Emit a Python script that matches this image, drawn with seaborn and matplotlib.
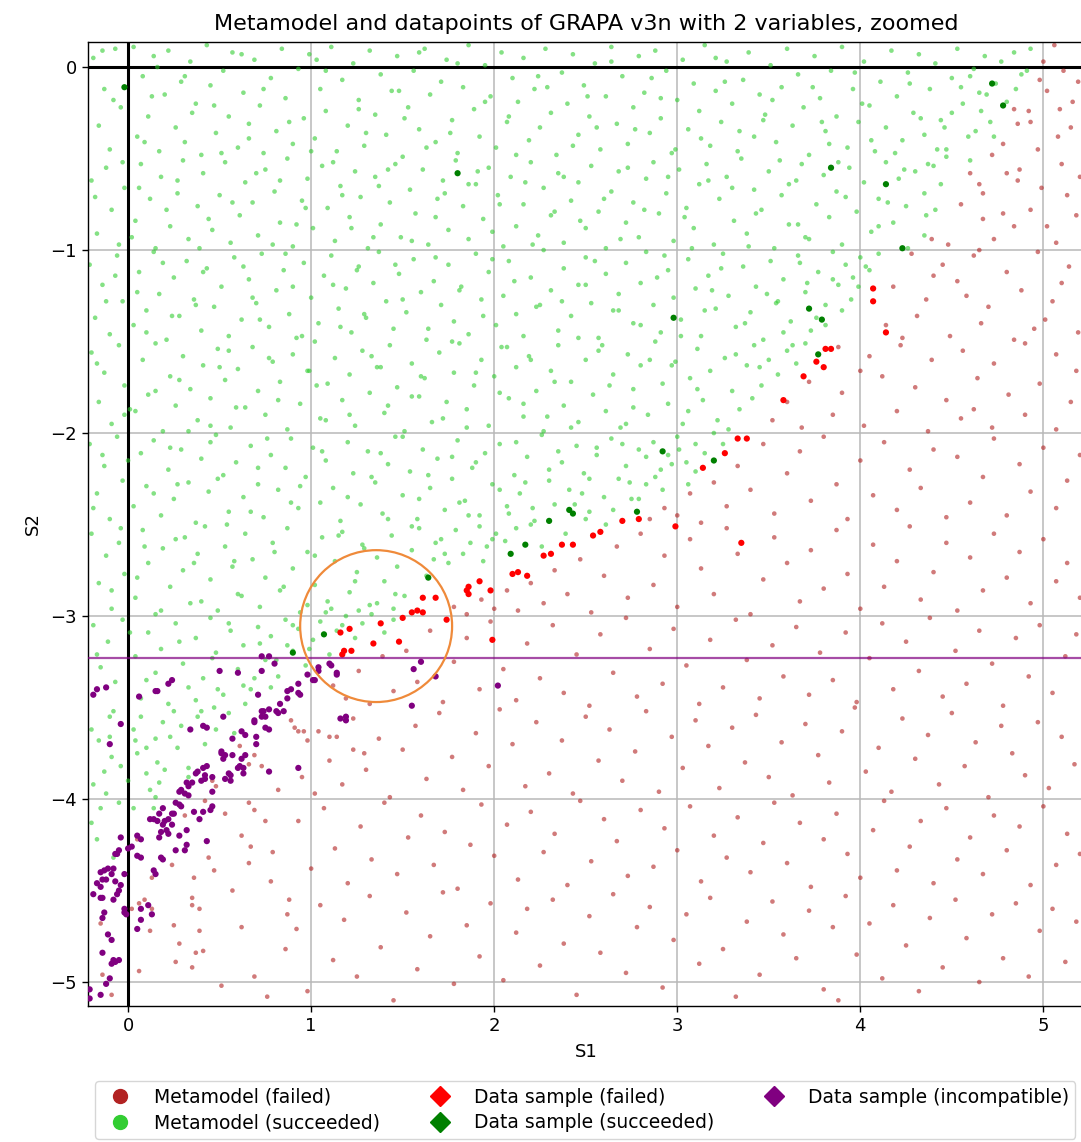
import matplotlib
matplotlib.use("Agg")
import matplotlib.pyplot as plt
from matplotlib.lines import Line2D
from matplotlib.patches import Circle
import pandas as pd
import seaborn as sns

# ---------------------------------------------------------------------------
# Metamodel predictions: succeeded (S1, S2) samples, by horizontal band
# ---------------------------------------------------------------------------
meta_ok_band_a = [
    (-0.19, 0.05), (-0.16, -0.32), (-0.13, -0.12), (-0.1, -0.45), (-0.07, 0.1), (-0.04, -0.22), (0.03, 0.11),
    (0.05, -0.38), (0.08, -0.05), (0.11, -0.27), (0.14, 0.06), (0.17, -0.46), (0.2, -0.15), (0.22, 0.09),
    (0.26, -0.33), (0.29, -0.08), (0.31, -0.41), (0.34, 0.03), (0.37, -0.2), (0.4, -0.48), (0.43, 0.12),
    (0.45, -0.1), (0.48, -0.36), (0.52, -0.02), (0.55, -0.27), (0.57, 0.08), (0.6, -0.44), (0.63, -0.14),
    (0.66, -0.31), (0.69, 0.04), (0.72, -0.21), (0.74, -0.47), (0.78, -0.06), (0.81, -0.35), (0.84, 0.1),
    (0.86, -0.17), (0.9, -0.42), (0.93, -0.01), (0.96, -0.28), (0.99, 0.07), (1.02, -0.39), (1.05, -0.12),
    (1.08, -0.24), (1.11, 0.11), (1.14, -0.46), (1.17, -0.07), (1.2, -0.32), (1.23, 0.02), (1.26, -0.18),
    (1.29, -0.43), (1.32, 0.09), (1.35, -0.26), (1.38, -0.04), (1.41, -0.37), (1.44, -0.13), (1.47, 0.06),
    (1.5, -0.49), (1.53, -0.22), (1.56, -0.02), (1.59, -0.34), (1.62, 0.1), (1.65, -0.15), (1.68, -0.41),
    (1.71, -0.08), (1.74, 0.04), (1.77, -0.29), (1.8, -0.47), (1.83, -0.11), (1.86, 0.12), (1.89, -0.23),
    (1.92, -0.38), (1.95, 0.01), (1.98, -0.16), (2.01, -0.44), (2.04, 0.08), (2.07, -0.3), (2.1, -0.06),
    (2.13, -0.19), (2.16, 0.05), (2.19, -0.4), (2.22, -0.12), (2.25, -0.33), (2.28, 0.1), (2.31, -0.25),
    (2.34, -0.48), (2.37, -0.03), (2.4, -0.2), (2.43, 0.07), (2.46, -0.37), (2.49, -0.1), (2.52, -0.27),
    (2.55, 0.02), (2.58, -0.45), (2.61, -0.16), (2.64, 0.11), (2.67, -0.31), (2.7, -0.05), (2.73, -0.42),
    (2.76, -0.22), (2.79, 0.06), (2.82, -0.14), (2.85, -0.36), (2.88, 0.09), (2.91, -0.28), (2.94, -0.02),
    (2.97, -0.47), (3.0, -0.18), (3.03, 0.04), (3.06, -0.34), (3.09, -0.09), (3.12, -0.24), (3.15, 0.12),
    (3.18, -0.43), (3.21, -0.13), (3.24, -0.3), (3.27, 0.03), (3.3, -0.2), (3.33, -0.46), (3.36, -0.07),
    (3.39, 0.08), (3.42, -0.38), (3.45, -0.15), (3.48, -0.26), (3.51, 0.01), (3.54, -0.41), (3.57, -0.11),
    (3.6, 0.1), (3.63, -0.32), (3.66, -0.04), (3.69, -0.22), (3.72, -0.48), (3.75, 0.06), (3.78, -0.17),
    (3.81, -0.35), (3.84, -0.02), (3.87, -0.27), (3.9, 0.11), (3.93, -0.44), (3.96, -0.12), (3.99, -0.3),
    (4.02, 0.03), (4.05, -0.21), (4.08, -0.46), (4.11, -0.08), (4.14, -0.33), (4.17, 0.09), (4.2, -0.16),
    (4.23, -0.4), (4.26, -0.03), (4.29, -0.25), (4.32, 0.07), (4.35, -0.37), (4.38, -0.12), (4.41, 0.02),
    (4.44, -0.29), (4.47, -0.45), (4.5, -0.06), (4.53, 0.1), (4.56, -0.2), (4.59, -0.38), (4.62, -0.01),
    (4.65, -0.14), (4.68, 0.06), (4.71, -0.3), (4.74, -0.09), (4.77, 0.03), (4.8, -0.19), (4.84, 0.08),
    (4.88, -0.04), (4.93, 0.1),
]
meta_ok_band_b = [
    (-0.2, -0.62), (-0.17, -0.91), (-0.12, -0.55), (-0.09, -0.78), (-0.05, -0.97), (-0.02, -0.66),
    (0.04, -0.84), (0.07, -0.53), (0.12, -0.72), (0.15, -0.99), (0.18, -0.6), (0.23, -0.87), (0.27, -0.69),
    (0.3, -0.51), (0.33, -0.94), (0.38, -0.76), (0.41, -0.58), (0.46, -0.89), (0.5, -0.7), (0.53, -0.52),
    (0.56, -0.96), (0.61, -0.81), (0.64, -0.63), (0.68, -0.74), (0.71, -0.92), (0.75, -0.56), (0.8, -0.68),
    (0.83, -0.85), (0.87, -0.5), (0.9, -0.98), (0.95, -0.73), (0.98, -0.61), (1.01, -0.88), (1.06, -0.54),
    (1.09, -0.77), (1.13, -0.95), (1.16, -0.65), (1.21, -0.82), (1.24, -0.57), (1.27, -0.71), (1.31, -0.99),
    (1.35, -0.6), (1.38, -0.86), (1.43, -0.74), (1.46, -0.53), (1.49, -0.93), (1.54, -0.67), (1.57, -0.8),
    (1.61, -0.56), (1.64, -0.97), (1.69, -0.72), (1.72, -0.62), (1.75, -0.89), (1.79, -0.51), (1.83, -0.76),
    (1.86, -0.94), (1.9, -0.64), (1.94, -0.83), (1.97, -0.55), (2.02, -0.7), (2.05, -0.98), (2.09, -0.6),
    (2.12, -0.87), (2.16, -0.75), (2.2, -0.52), (2.24, -0.92), (2.27, -0.66), (2.31, -0.81), (2.35, -0.58),
    (2.38, -0.96), (2.42, -0.73), (2.46, -0.63), (2.5, -0.88), (2.53, -0.54), (2.57, -0.79), (2.61, -0.99),
    (2.64, -0.68), (2.68, -0.57), (2.72, -0.85), (2.76, -0.74), (2.79, -0.93), (2.83, -0.61), (2.87, -0.52),
    (2.9, -0.8), (2.94, -0.69), (2.98, -0.95), (3.01, -0.56), (3.05, -0.77), (3.09, -0.88), (3.12, -0.64),
    (3.16, -0.53), (3.2, -0.97), (3.23, -0.72), (3.27, -0.6), (3.31, -0.84), (3.35, -0.5), (3.38, -0.91),
    (3.42, -0.67), (3.46, -0.78), (3.5, -0.57), (3.53, -0.99), (3.57, -0.7), (3.61, -0.86), (3.65, -0.62),
    (3.68, -0.53), (3.72, -0.94), (3.76, -0.75), (3.8, -0.59), (3.83, -0.82), (3.87, -0.68), (3.9, -0.97),
    (3.94, -0.55), (3.98, -0.79), (4.02, -0.63), (4.06, -0.9), (4.1, -0.72), (4.14, -0.52), (4.18, -0.85),
    (4.21, -0.61), (4.25, -0.76), (4.3, -0.57), (4.35, -0.69), (4.4, -0.54), (4.44, -0.64), (4.63, -0.35),
    (4.6, -0.51), (4.47, -0.49), (4.37, -0.53), (4.41, -0.78), (4.35, -0.92), (4.26, -0.99),
]
meta_ok_band_c = [
    (-0.21, -1.08), (-0.18, -1.37), (-0.14, -1.19), (-0.1, -1.46), (-0.06, -1.03), (-0.03, -1.28),
    (0.03, -1.41), (0.06, -1.12), (0.1, -1.33), (0.14, -1.01), (0.17, -1.24), (0.21, -1.49), (0.25, -1.15),
    (0.28, -1.36), (0.32, -1.06), (0.36, -1.27), (0.4, -1.44), (0.43, -1.1), (0.47, -1.31), (0.51, -1.2),
    (0.55, -1.47), (0.58, -1.04), (0.62, -1.38), (0.66, -1.16), (0.7, -1.29), (0.73, -1.02), (0.77, -1.42),
    (0.81, -1.22), (0.85, -1.11), (0.88, -1.35), (0.92, -1.48), (0.96, -1.07), (1.0, -1.26), (1.04, -1.4),
    (1.07, -1.14), (1.11, -1.03), (1.15, -1.32), (1.19, -1.21), (1.22, -1.45), (1.26, -1.09), (1.3, -1.37),
    (1.34, -1.18), (1.37, -1.01), (1.41, -1.28), (1.45, -1.43), (1.48, -1.13), (1.52, -1.34), (1.56, -1.05),
    (1.6, -1.23), (1.63, -1.49), (1.67, -1.17), (1.71, -1.3), (1.75, -1.08), (1.78, -1.39), (1.82, -1.2),
    (1.86, -1.46), (1.9, -1.02), (1.93, -1.27), (1.97, -1.12), (2.01, -1.41), (2.05, -1.25), (2.08, -1.06),
    (2.12, -1.35), (2.16, -1.47), (2.2, -1.15), (2.23, -1.31), (2.27, -1.0), (2.31, -1.22), (2.35, -1.44),
    (2.38, -1.1), (2.42, -1.36), (2.46, -1.19), (2.5, -1.04), (2.53, -1.29), (2.57, -1.48), (2.61, -1.13),
    (2.65, -1.33), (2.68, -1.24), (2.72, -1.07), (2.76, -1.4), (2.8, -1.18), (2.83, -1.01), (2.87, -1.3),
    (2.91, -1.45), (2.95, -1.11), (2.98, -1.26), (3.02, -1.38), (3.06, -1.05), (3.1, -1.21), (3.13, -1.47),
    (3.17, -1.14), (3.21, -1.32), (3.25, -1.02), (3.28, -1.25), (3.32, -1.42), (3.36, -1.09), (3.4, -1.34),
    (3.43, -1.2), (3.47, -1.49), (3.51, -1.06), (3.55, -1.28), (3.58, -1.16), (3.62, -1.39), (3.66, -1.03),
    (3.7, -1.23), (3.73, -1.44), (3.77, -1.12), (3.81, -1.3), (3.85, -1.01), (3.88, -1.19), (3.92, -1.08),
    (3.96, -1.15), (4.0, -1.04), (4.05, -1.11), (4.1, -1.02),
]
meta_ok_band_d = [
    (-0.2, -1.56), (-0.16, -1.83), (-0.13, -1.67), (-0.09, -1.95), (-0.05, -1.52), (-0.02, -1.74),
    (0.04, -1.88), (0.08, -1.6), (0.11, -1.79), (0.15, -1.51), (0.19, -1.99), (0.23, -1.69), (0.26, -1.85),
    (0.3, -1.58), (0.34, -1.76), (0.38, -1.93), (0.41, -1.63), (0.45, -1.81), (0.49, -1.54), (0.53, -1.71),
    (0.56, -1.97), (0.6, -1.65), (0.64, -1.86), (0.68, -1.53), (0.71, -1.77), (0.75, -1.9), (0.79, -1.61),
    (0.83, -1.72), (0.87, -1.98), (0.9, -1.57), (0.94, -1.84), (0.98, -1.66), (1.02, -1.5), (1.05, -1.92),
    (1.09, -1.73), (1.13, -1.59), (1.17, -1.82), (1.21, -1.68), (1.24, -1.96), (1.28, -1.55), (1.32, -1.78),
    (1.36, -1.64), (1.4, -1.89), (1.43, -1.52), (1.47, -1.75), (1.51, -1.99), (1.55, -1.62), (1.59, -1.8),
    (1.62, -1.7), (1.66, -1.94), (1.7, -1.56), (1.74, -1.83), (1.78, -1.67), (1.81, -1.51), (1.85, -1.87),
    (1.89, -1.74), (1.93, -1.6), (1.97, -1.96), (2.0, -1.69), (2.04, -1.53), (2.08, -1.81), (2.12, -1.64),
    (2.16, -1.91), (2.19, -1.58), (2.23, -1.77), (2.27, -1.99), (2.31, -1.66), (2.35, -1.52), (2.38, -1.85),
    (2.42, -1.72), (2.46, -1.94), (2.5, -1.6), (2.54, -1.79), (2.57, -1.55), (2.61, -1.88), (2.65, -1.68),
    (2.69, -1.97), (2.73, -1.57), (2.76, -1.76), (2.8, -1.63), (2.84, -1.9), (2.88, -1.5), (2.92, -1.73),
    (2.95, -1.84), (2.99, -1.61), (3.03, -1.95), (3.07, -1.7), (3.11, -1.54), (3.14, -1.82), (3.18, -1.66),
    (3.22, -1.93), (3.26, -1.59), (3.3, -1.77), (3.34, -1.87), (3.38, -1.63), (3.42, -1.52), (3.46, -1.74),
    (3.5, -1.6), (3.55, -1.68), (3.6, -1.55), (3.65, -1.62), (3.7, -1.51),
]
meta_ok_band_e = [
    (-0.21, -2.06), (-0.17, -2.33), (-0.13, -2.18), (-0.1, -2.47), (-0.06, -2.02), (-0.03, -2.26),
    (0.03, -2.4), (0.07, -2.11), (0.1, -2.29), (0.14, -2.04), (0.18, -2.45), (0.22, -2.2), (0.25, -2.36),
    (0.29, -2.09), (0.33, -2.27), (0.37, -2.49), (0.4, -2.14), (0.44, -2.32), (0.48, -2.01), (0.52, -2.23),
    (0.55, -2.43), (0.59, -2.16), (0.63, -2.35), (0.67, -2.07), (0.71, -2.28), (0.74, -2.46), (0.78, -2.12),
    (0.82, -2.31), (0.86, -2.19), (0.89, -2.03), (0.93, -2.41), (0.97, -2.24), (1.01, -2.08), (1.05, -2.38),
    (1.08, -2.15), (1.12, -2.3), (1.16, -2.48), (1.2, -2.05), (1.23, -2.22), (1.27, -2.39), (1.31, -2.1),
    (1.35, -2.27), (1.39, -2.44), (1.42, -2.17), (1.46, -2.02), (1.5, -2.34), (1.54, -2.21), (1.58, -2.47),
    (1.61, -2.09), (1.65, -2.3), (1.69, -2.14), (1.73, -2.42), (1.77, -2.25), (1.8, -2.04), (1.84, -2.37),
    (1.88, -2.19), (1.92, -2.45), (1.95, -2.11), (1.99, -2.28), (2.03, -2.06), (2.07, -2.4), (2.11, -2.23),
    (2.14, -2.33), (2.18, -2.13), (2.22, -2.48), (2.26, -2.01), (2.3, -2.26), (2.33, -2.39), (2.37, -2.16),
    (2.41, -2.31), (2.45, -2.07), (2.49, -2.22), (2.52, -2.43), (2.56, -2.12), (2.6, -2.35), (2.64, -2.03),
    (2.68, -2.25), (2.72, -2.18), (2.75, -2.36), (2.79, -2.09), (2.83, -2.28), (2.87, -2.05), (2.91, -2.2),
    (2.95, -2.12), (3.0, -2.02), (3.05, -2.16), (3.1, -2.06), (3.2, -2.0),
]
meta_ok_band_f = [
    (-0.2, -2.55), (-0.16, -2.82), (-0.12, -2.67), (-0.09, -2.96), (-0.05, -2.6), (-0.02, -2.77),
    (0.04, -2.9), (0.08, -2.53), (0.11, -2.71), (0.15, -2.99), (0.19, -2.63), (0.23, -2.84), (0.26, -2.58),
    (0.3, -2.75), (0.34, -2.93), (0.38, -2.66), (0.42, -2.51), (0.45, -2.8), (0.49, -2.97), (0.53, -2.62),
    (0.57, -2.73), (0.6, -2.88), (0.64, -2.55), (0.68, -2.69), (0.72, -2.95), (0.75, -2.79), (0.79, -2.6),
    (0.83, -2.86), (0.87, -2.52), (0.9, -2.74), (0.94, -2.98), (0.98, -2.65), (1.02, -2.83), (1.06, -2.57),
    (1.09, -2.92), (1.13, -2.7), (1.17, -2.54), (1.21, -2.87), (1.25, -2.76), (1.28, -2.61), (1.32, -2.94),
    (1.36, -2.68), (1.4, -2.81), (1.44, -2.56), (1.47, -2.73), (1.51, -2.89), (1.55, -2.64), (1.59, -2.52),
    (1.63, -2.78), (1.67, -2.69), (1.71, -2.58), (1.75, -2.71), (1.79, -2.53), (1.83, -2.66), (1.87, -2.6),
    (1.92, -2.51), (1.96, -2.62), (2.01, -2.55), (2.06, -2.59), (2.12, -2.52), (2.2, -2.5), (2.5, -2.47),
]
meta_ok_band_g = [
    (-0.19, -3.05), (-0.15, -3.28), (-0.11, -3.14), (-0.07, -3.36), (-0.03, -3.02), (0.04, -3.22),
    (0.07, -3.45), (0.11, -3.09), (0.15, -3.31), (0.18, -3.18), (0.22, -3.48), (0.26, -3.04), (0.3, -3.26),
    (0.33, -3.39), (0.37, -3.12), (0.41, -3.34), (0.45, -3.01), (0.48, -3.2), (0.52, -3.43), (0.56, -3.08),
    (0.6, -3.29), (0.63, -3.16), (0.67, -3.4), (0.71, -3.06), (0.75, -3.24), (0.78, -3.11), (0.82, -3.33),
    (0.86, -3.02), (0.9, -3.19), (0.93, -3.07), (0.97, -3.27), (1.01, -3.13), (1.05, -3.03), (1.1, -3.21),
    (1.14, -3.08), (1.19, -3.0), (1.24, -3.12), (1.28, -3.04), (1.33, -2.99), (1.4, -3.09), (1.45, -3.02),
]
meta_ok_band_h = [
    (-0.2, -3.62), (-0.16, -3.68), (-0.09, -3.77), (-0.2, -4.13), (-0.15, -4.05), (-0.05, -4.02),
    (-0.13, -3.85), (-0.19, -3.92), (0.05, -3.75), (0.15, -3.67), (0.07, -3.55), (0.33, -3.83),
    (0.33, -3.88), (0.17, -3.91), (0.15, -3.99), (0.14, -4.05), (-0.08, -4.32), (0.16, -3.8), (0.23, -3.66),
    (0.38, -3.55), (0.48, -3.62), (0.58, -3.64), (0.69, -3.34), (0.78, -3.39), (0.49, -3.4), (0.87, -3.16),
    (0.27, -3.72), (0.42, -3.7), (0.03, -3.62), (0.1, -3.86), (0.25, -3.52), (0.55, -3.53), (0.64, -3.48),
    (-0.1, -3.55), (0.0, -3.9),
]
# second, offset sweep over the succeeded region
meta_ok_sweep_1 = [
    (-0.18, -0.71), (-0.08, -0.18), (0.02, -0.93), (0.09, -0.41), (0.16, 0.0), (0.27, -0.62), (0.35, -0.25),
    (0.44, -0.83), (0.51, -0.47), (0.62, 0.07), (0.7, -0.58), (0.79, -0.97), (0.88, -0.3), (0.97, -0.77),
    (1.03, 0.04), (1.12, -0.52), (1.22, -0.88), (1.3, -0.36), (1.37, -0.65), (1.48, -0.13), (1.55, -0.95),
    (1.63, -0.44), (1.73, -0.69), (1.8, 0.02), (1.91, -0.57), (1.99, -0.9), (2.08, -0.27), (2.17, -0.63),
    (2.24, -0.05), (2.33, -0.79), (2.43, -0.43), (2.51, -0.16), (2.6, -0.72), (2.69, -0.94), (2.77, -0.34),
    (2.86, -0.06), (2.95, -0.6), (3.04, -0.82), (3.13, -0.39), (3.21, 0.05), (3.3, -0.66), (3.39, -0.98),
    (3.47, -0.29), (3.56, -0.51), (3.66, -0.86), (3.74, -0.11), (3.83, -0.42), (3.92, -0.71), (4.01, -0.2),
    (4.1, -0.87), (4.19, -0.47), (4.27, -0.09), (4.36, -0.81), (4.46, -0.33), (4.55, -0.11), (4.66, -0.24),
    (4.73, -0.38), (4.91, -0.02),
    (-0.14, 0.09), (-0.03, -0.52), (0.06, -0.66), (0.13, -0.16), (0.21, -0.78), (0.31, -0.05), (0.39, -0.99),
    (0.47, -0.21), (0.57, -0.74), (0.66, -0.39), (0.74, -0.12), (0.83, -0.62), (0.92, -0.86), (1.0, -0.46),
    (1.08, -0.02), (1.17, -0.7), (1.26, -0.23), (1.34, -0.93), (1.42, -0.56), (1.51, -0.28), (1.59, 0.08),
    (1.68, -0.82), (1.76, -0.36), (1.86, -0.64), (1.95, -0.19), (2.03, -0.75), (2.12, -0.48), (2.21, -0.97),
    (2.29, -0.11), (2.38, -0.6), (2.47, -0.84), (2.56, -0.33), (2.64, 0.03), (2.73, -0.55), (2.82, -0.78),
    (2.91, -0.17), (2.99, -0.45), (3.08, -0.99), (3.17, -0.62), (3.26, -0.08), (3.34, -0.35), (3.43, -0.8),
    (3.52, -0.18), (3.61, -0.64), (3.7, -0.93), (3.79, -0.3), (3.88, -0.52), (3.97, -0.03), (4.06, -0.4),
    (4.15, -0.74), (4.24, -0.56), (4.33, -0.28), (4.42, -0.45), (4.5, -0.25), (4.6, -0.05), (4.69, -0.15),
    (4.85, -0.12),
]
meta_ok_sweep_2 = [
    (-0.17, -1.62), (-0.07, -1.14), (0.01, -1.87), (0.1, -1.45), (0.19, -1.07), (0.28, -1.71), (0.37, -1.3),
    (0.45, -1.96), (0.55, -1.55), (0.63, -1.09), (0.72, -1.38), (0.82, -1.82), (0.9, -1.2), (0.99, -1.66),
    (1.08, -1.93), (1.16, -1.42), (1.25, -1.11), (1.33, -1.58), (1.42, -1.85), (1.5, -1.27), (1.6, -1.69),
    (1.68, -1.04), (1.77, -1.5), (1.85, -1.97), (1.94, -1.36), (2.03, -1.78), (2.11, -1.17), (2.2, -1.6),
    (2.29, -1.91), (2.37, -1.28), (2.46, -1.48), (2.55, -1.06), (2.63, -1.74), (2.72, -1.95), (2.8, -1.41),
    (2.89, -1.15), (2.97, -1.63), (3.06, -1.88), (3.15, -1.33), (3.24, -1.1), (3.32, -1.57), (3.41, -1.81),
    (3.49, -1.24), (3.58, -1.45), (3.67, -1.07), (3.76, -1.37), (3.85, -1.16), (3.95, -1.27), (4.03, -1.09),
    (-0.12, -1.28), (-0.02, -1.9), (0.05, -1.23), (0.15, -1.77), (0.24, -1.36), (0.33, -1.99), (0.41, -1.12),
    (0.5, -1.64), (0.59, -1.86), (0.68, -1.26), (0.77, -1.59), (0.86, -1.02), (0.95, -1.47), (1.03, -1.74),
    (1.12, -1.19), (1.21, -1.9), (1.29, -1.35), (1.38, -1.64), (1.46, -1.08), (1.55, -1.8), (1.64, -1.43),
    (1.72, -1.92), (1.81, -1.22), (1.9, -1.67), (1.99, -1.05), (2.07, -1.53), (2.16, -1.84), (2.25, -1.3),
    (2.33, -1.72), (2.42, -1.97), (2.5, -1.19), (2.59, -1.52), (2.68, -1.33), (2.76, -1.86), (2.85, -1.6),
    (2.93, -1.03), (3.02, -1.47), (3.11, -1.76), (3.19, -1.22), (3.28, -1.98), (3.37, -1.4), (3.45, -1.64),
    (3.54, -1.29), (3.63, -1.52), (3.71, -1.18), (3.81, -1.41), (3.9, -1.33), (3.99, -1.2),
]
meta_ok_sweep_3 = [
    (-0.19, -2.41), (-0.09, -2.86), (0.0, -2.15), (0.09, -2.62), (0.18, -2.97), (0.27, -2.28), (0.36, -2.71),
    (0.45, -2.05), (0.54, -2.5), (0.62, -2.89), (0.71, -2.19), (0.8, -2.65), (0.89, -2.38), (0.98, -2.94),
    (1.06, -2.1), (1.15, -2.56), (1.24, -2.81), (1.33, -2.24), (1.42, -2.47), (1.5, -2.02), (1.59, -2.36),
    (1.68, -2.6), (1.77, -2.13), (1.86, -2.45), (1.94, -2.7), (2.03, -2.31), (2.12, -2.05), (2.21, -2.41),
    (2.3, -2.2), (2.39, -2.55), (2.48, -2.33), (2.56, -2.08), (2.65, -2.42), (2.74, -2.27), (2.83, -2.13),
    (2.92, -2.31), (3.01, -2.09), (3.1, -2.21), (3.25, -2.06),
    (-0.14, -2.12), (-0.04, -2.52), (0.05, -2.79), (0.14, -2.33), (0.23, -2.08), (0.31, -2.57), (0.4, -2.92),
    (0.49, -2.25), (0.58, -2.7), (0.67, -2.43), (0.76, -2.03), (0.85, -2.84), (0.94, -2.29), (1.02, -2.67),
    (1.11, -2.96), (1.2, -2.35), (1.29, -2.63), (1.38, -2.11), (1.46, -2.88), (1.55, -2.51), (1.64, -2.23),
    (1.73, -2.66), (1.81, -2.38), (1.9, -2.16), (1.99, -2.58), (2.08, -2.44), (2.17, -2.27), (2.26, -2.62),
    (2.35, -2.1), (2.44, -2.39), (2.52, -2.25), (2.61, -2.5), (2.7, -2.06), (2.79, -2.36), (2.88, -2.24),
    (2.97, -2.17), (3.06, -2.28), (3.15, -2.11),
]
meta_ok_sweep_4 = [
    (-0.17, -3.21), (-0.08, -3.52), (0.01, -3.09), (0.1, -3.35), (0.19, -3.58), (0.28, -3.14), (0.37, -3.46),
    (0.46, -3.23), (0.55, -3.04), (0.63, -3.38), (0.72, -3.15), (0.81, -3.24), (0.9, -3.05), (0.99, -3.18),
    (1.08, -2.98), (1.17, -3.05), (1.26, -2.97), (1.36, -2.93), (1.45, -2.96),
    (-0.12, -3.97), (-0.17, -4.22), (-0.04, -3.82), (0.03, -4.05), (0.1, -3.72), (0.2, -3.84), (0.29, -3.6),
    (0.4, -3.52), (0.12, -3.95), (-0.1, -3.66), (0.47, -3.5), (0.04, -3.68),
]

# ---------------------------------------------------------------------------
# Metamodel predictions: failed (S1, S2) samples
# ---------------------------------------------------------------------------
meta_failed_upper = [
    (5.06, 0.12), (5.11, -0.02), (5.02, -0.13), (5.16, -0.19), (5.09, -0.23), (5.19, -0.08), (4.92, -0.24),
    (4.93, -0.3), (4.84, -0.23), (4.86, -0.31), (4.78, -0.42), (5.08, -0.38), (4.97, -0.45), (5.15, -0.33),
    (4.72, -0.48), (5.0, 0.03), (4.98, -0.07),
    (4.8, -0.58), (4.87, -0.56), (4.86, -0.62), (4.65, -0.64), (4.67, -0.69), (4.99, -0.66), (5.18, -0.81),
    (5.02, -0.87), (4.73, -0.94), (4.84, -0.87), (4.67, -0.83), (4.55, -0.75), (4.48, -0.97), (4.6, -0.58),
    (5.1, -0.53), (5.13, -0.7), (4.93, -0.78), (5.07, -0.96), (4.39, -0.94), (4.78, -0.8), (5.2, -0.6),
    (4.65, -1.0),
    (4.28, -1.02), (4.45, -1.08), (4.62, -1.03), (4.8, -1.12), (4.97, -1.01), (5.14, -1.09), (4.18, -1.2),
    (4.36, -1.27), (4.53, -1.17), (4.7, -1.31), (4.88, -1.22), (5.05, -1.28), (4.14, -1.41), (4.31, -1.36),
    (4.49, -1.47), (4.66, -1.4), (4.84, -1.49), (5.01, -1.38), (5.19, -1.45), (4.23, -1.48), (4.58, -1.25),
    (4.95, -1.43), (5.1, -1.18), (4.4, -1.14),
    (3.88, -1.53), (4.05, -1.58), (4.22, -1.52), (4.39, -1.6), (4.56, -1.55), (4.73, -1.62), (4.9, -1.51),
    (5.07, -1.57), (3.72, -1.72), (3.9, -1.78), (4.12, -1.69), (4.3, -1.75), (4.47, -1.82), (4.64, -1.7),
    (4.81, -1.79), (4.98, -1.73), (5.15, -1.83), (3.52, -1.93), (3.68, -1.97), (3.85, -1.9), (4.02, -1.96),
    (4.2, -1.88), (4.37, -1.99), (4.55, -1.92), (4.72, -1.97), (4.9, -1.9), (5.07, -1.98), (3.6, -1.83),
    (4.0, -1.66), (4.62, -1.87), (5.18, -1.66),
]
meta_failed_middle = [
    (2.85, -2.47), (2.93, -2.41), (3.0, -2.45), (3.07, -2.33), (3.13, -2.49), (3.2, -2.27), (3.27, -2.4),
    (3.33, -2.18), (3.4, -2.31), (3.47, -2.06), (3.53, -2.44), (3.6, -2.22), (3.67, -2.1), (3.73, -2.37),
    (3.8, -2.02), (3.87, -2.28), (3.93, -2.47), (4.0, -2.15), (4.07, -2.34), (4.13, -2.05), (4.2, -2.42),
    (4.27, -2.2), (4.33, -2.3), (4.4, -2.09), (4.47, -2.46), (4.53, -2.13), (4.6, -2.38), (4.67, -2.24),
    (4.73, -2.03), (4.8, -2.45), (4.87, -2.17), (4.93, -2.32), (5.0, -2.08), (5.07, -2.41), (5.13, -2.26),
    (5.2, -2.12),
    (1.78, -2.95), (1.85, -2.99), (1.93, -2.91), (2.0, -2.96), (2.07, -2.86), (2.13, -2.97), (2.2, -2.82),
    (2.27, -2.93), (2.33, -2.75), (2.4, -2.88), (2.47, -2.69), (2.53, -2.98), (2.6, -2.78), (2.67, -2.62),
    (2.73, -2.9), (2.8, -2.55), (2.87, -2.83), (2.93, -2.67), (3.0, -2.95), (3.07, -2.58), (3.13, -2.74),
    (3.2, -2.88), (3.27, -2.52), (3.33, -2.66), (3.4, -2.99), (3.47, -2.8), (3.53, -2.57), (3.6, -2.71),
    (3.67, -2.92), (3.73, -2.64), (3.8, -2.85), (3.87, -2.53), (3.93, -2.77), (4.0, -2.96), (4.07, -2.61),
    (4.13, -2.84), (4.2, -2.7), (4.27, -2.51), (4.33, -2.91), (4.4, -2.76), (4.47, -2.6), (4.53, -2.97),
    (4.6, -2.68), (4.67, -2.86), (4.73, -2.55), (4.8, -2.79), (4.87, -2.65), (4.93, -2.93), (5.0, -2.58),
    (5.07, -2.81), (5.13, -2.71), (5.2, -2.9),
    (1.12, -3.38), (1.19, -3.45), (1.26, -3.3), (1.32, -3.48), (1.39, -3.22), (1.45, -3.41), (1.52, -3.19),
    (1.58, -3.36), (1.65, -3.08), (1.72, -3.47), (1.78, -3.25), (1.85, -3.12), (1.92, -3.4), (1.98, -3.03),
    (2.05, -3.29), (2.12, -3.46), (2.18, -3.15), (2.25, -3.34), (2.32, -3.05), (2.38, -3.42), (2.45, -3.21),
    (2.52, -3.49), (2.58, -3.1), (2.65, -3.31), (2.72, -3.01), (2.78, -3.44), (2.85, -3.18), (2.92, -3.37),
    (2.98, -3.07), (3.05, -3.27), (3.12, -3.48), (3.18, -3.13), (3.25, -3.39), (3.32, -3.02), (3.38, -3.24),
    (3.45, -3.45), (3.52, -3.16), (3.58, -3.33), (3.65, -3.06), (3.72, -3.43), (3.78, -3.2), (3.85, -3.35),
    (3.92, -3.09), (3.98, -3.47), (4.05, -3.23), (4.12, -3.04), (4.18, -3.4), (4.25, -3.14), (4.32, -3.3),
    (4.38, -3.01), (4.45, -3.44), (4.52, -3.19), (4.58, -3.37), (4.65, -3.08), (4.72, -3.26), (4.78, -3.49),
    (4.85, -3.12), (4.92, -3.33), (4.98, -3.05), (5.05, -3.42), (5.12, -3.22), (5.18, -3.1),
]
meta_failed_lower = [
    (0.95, -3.88), (1.02, -3.97), (1.1, -3.79), (1.17, -3.92), (1.23, -3.56), (1.3, -3.84), (1.37, -3.67),
    (1.43, -3.99), (1.5, -3.73), (1.57, -3.6), (1.63, -3.89), (1.7, -3.53), (1.77, -3.77), (1.83, -3.95),
    (1.9, -3.64), (1.97, -3.82), (2.03, -3.51), (2.1, -3.7), (2.17, -3.93), (2.23, -3.58), (2.3, -3.86),
    (2.37, -3.68), (2.43, -3.97), (2.5, -3.55), (2.57, -3.79), (2.63, -3.62), (2.7, -3.9), (2.77, -3.74),
    (2.83, -3.52), (2.9, -3.96), (2.97, -3.66), (3.03, -3.83), (3.1, -3.57), (3.17, -3.71), (3.23, -3.94),
    (3.3, -3.61), (3.37, -3.8), (3.43, -3.54), (3.5, -3.88), (3.57, -3.69), (3.63, -3.98), (3.7, -3.59),
    (3.77, -3.76), (3.83, -3.91), (3.9, -3.63), (3.97, -3.5), (4.03, -3.85), (4.1, -3.72), (4.17, -3.96),
    (4.23, -3.56), (4.3, -3.78), (4.37, -3.65), (4.43, -3.92), (4.5, -3.53), (4.57, -3.82), (4.63, -3.69),
    (4.7, -3.99), (4.77, -3.6), (4.83, -3.75), (4.9, -3.87), (4.97, -3.58), (5.03, -3.94), (5.1, -3.66),
    (5.17, -3.81),
    (0.93, -4.12), (1.0, -4.38), (1.07, -4.05), (1.13, -4.27), (1.2, -4.46), (1.27, -4.15), (1.33, -4.33),
    (1.4, -4.02), (1.47, -4.41), (1.53, -4.21), (1.6, -4.09), (1.67, -4.36), (1.73, -4.18), (1.8, -4.49),
    (1.87, -4.25), (1.93, -4.03), (2.0, -4.31), (2.07, -4.14), (2.13, -4.44), (2.2, -4.07), (2.27, -4.29),
    (2.33, -4.19), (2.4, -4.47), (2.47, -4.01), (2.53, -4.34), (2.6, -4.11), (2.67, -4.23), (2.73, -4.42),
    (2.8, -4.06), (2.87, -4.37), (2.93, -4.16), (3.0, -4.28), (3.07, -4.04), (3.13, -4.45), (3.2, -4.2),
    (3.27, -4.32), (3.33, -4.1), (3.4, -4.4), (3.47, -4.24), (3.53, -4.02), (3.6, -4.35), (3.67, -4.13),
    (3.73, -4.48), (3.8, -4.22), (3.87, -4.08), (3.93, -4.3), (4.0, -4.43), (4.07, -4.17), (4.13, -4.01),
    (4.2, -4.39), (4.27, -4.26), (4.33, -4.12), (4.4, -4.46), (4.47, -4.05), (4.53, -4.33), (4.6, -4.21),
    (4.67, -4.41), (4.73, -4.09), (4.8, -4.28), (4.87, -4.15), (4.93, -4.47), (5.0, -4.04), (5.07, -4.36),
    (5.13, -4.19), (5.2, -4.3),
    (0.92, -4.71), (0.98, -5.05), (1.05, -4.58), (1.12, -4.88), (1.18, -4.66), (1.25, -4.97), (1.32, -4.53),
    (1.38, -4.81), (1.45, -5.1), (1.52, -4.62), (1.58, -4.93), (1.65, -4.75), (1.72, -4.51), (1.78, -5.01),
    (1.85, -4.69), (1.92, -4.86), (1.98, -4.57), (2.05, -4.99), (2.12, -4.73), (2.18, -4.6), (2.25, -4.91),
    (2.32, -4.55), (2.38, -4.79), (2.45, -5.07), (2.52, -4.64), (2.58, -4.84), (2.65, -4.52), (2.72, -4.95),
    (2.78, -4.7), (2.85, -4.59), (2.92, -5.03), (2.98, -4.77), (3.05, -4.63), (3.12, -4.9), (3.18, -4.54),
    (3.25, -4.82), (3.32, -5.08), (3.38, -4.67), (3.45, -4.96), (3.52, -4.56), (3.58, -4.74), (3.65, -4.87),
    (3.72, -4.61), (3.8, -5.04), (3.85, -4.7), (3.88, -5.1), (3.92, -4.53), (3.98, -4.85), (4.05, -4.68),
    (4.12, -4.98), (4.18, -4.58), (4.25, -4.8), (4.32, -5.05), (4.38, -4.65), (4.45, -4.92), (4.52, -4.55),
    (4.58, -4.76), (4.65, -5.0), (4.72, -4.63), (4.78, -4.87), (4.85, -4.57), (4.92, -4.97), (4.98, -4.72),
    (5.05, -4.6), (5.12, -4.89), (5.18, -4.67),
]
meta_failed_left = [
    (0.61, -3.71), (0.69, -3.76), (0.66, -3.81), (0.73, -3.82), (0.46, -3.9), (0.48, -3.93), (0.42, -4.01),
    (0.31, -4.09), (0.66, -4.02), (0.69, -4.06), (0.53, -4.08), (0.62, -4.2), (0.67, -4.26), (0.79, -4.29),
    (0.66, -4.35), (0.44, -4.32), (0.47, -4.39), (0.36, -4.43), (0.24, -4.36), (0.13, -4.43), (0.78, -4.45),
    (0.88, -4.55), (0.87, -4.63), (0.35, -4.54), (0.35, -4.58), (0.39, -4.6), (0.25, -4.69), (0.39, -4.72),
    (0.28, -4.79), (0.37, -4.84), (0.41, -4.83), (0.26, -4.89), (0.35, -4.92), (0.51, -5.02), (0.69, -4.97),
    (0.86, -4.82), (0.06, -4.57), (0.09, -4.55), (0.13, -4.6), (0.05, -4.22), (0.12, -4.72), (0.02, -4.6),
    (0.06, -4.94), (-0.14, -4.96), (-0.09, -5.07), (-0.15, -4.68), (1.04, -3.63), (0.89, -3.57),
    (0.91, -3.61), (0.93, -3.63), (0.96, -3.63), (0.98, -3.68), (1.1, -3.66), (1.14, -3.66), (1.23, -3.73),
    (1.29, -3.75), (0.82, -3.95), (0.75, -4.12), (0.57, -4.5), (0.62, -4.7), (0.76, -5.08),
]

# ---------------------------------------------------------------------------
# Evaluated data samples
# ---------------------------------------------------------------------------
sample_failed = [
    (4.07, -1.21), (4.07, -1.28), (4.14, -1.45), (3.81, -1.54), (3.84, -1.54), (3.76, -1.61), (3.8, -1.64),
    (3.69, -1.69), (3.58, -1.82), (3.33, -2.03), (3.38, -2.03), (3.26, -2.11), (3.14, -2.19), (2.7, -2.48),
    (2.79, -2.47), (2.99, -2.51), (2.58, -2.54), (3.35, -2.6), (2.54, -2.56), (2.37, -2.61), (2.43, -2.61),
    (2.27, -2.67), (2.31, -2.66), (2.1, -2.77), (2.13, -2.76), (2.18, -2.78), (1.92, -2.81), (1.86, -2.84),
    (1.85, -2.86), (1.86, -2.88), (1.98, -2.86), (1.74, -3.02), (1.99, -3.13), (1.61, -2.9), (1.68, -2.9),
    (1.55, -2.98), (1.58, -2.97), (1.61, -2.98), (1.5, -3.01), (1.38, -3.04), (1.21, -3.07), (1.16, -3.09),
    (1.48, -3.14), (1.34, -3.15), (1.22, -3.19), (1.18, -3.19), (1.17, -3.21),
]
sample_succeeded = [
    (-0.02, -0.11), (1.8, -0.58), (3.84, -0.55), (4.14, -0.64), (4.72, -0.09), (4.78, -0.21), (4.23, -0.99),
    (2.98, -1.37), (3.72, -1.32), (3.79, -1.38), (3.77, -1.57), (2.92, -2.1), (3.2, -2.15), (2.78, -2.43),
    (2.41, -2.42), (2.43, -2.44), (2.3, -2.48), (2.17, -2.61), (2.09, -2.66), (1.64, -2.79), (1.07, -3.1),
    (0.9, -3.2),
]
sample_incompatible = [
    (0.73, -3.22), (0.77, -3.22), (0.8, -3.26), (1.1, -3.26), (1.11, -3.27), (1.14, -3.31), (0.98, -3.32),
    (1.02, -3.35), (1.04, -3.3), (0.5, -3.3), (0.6, -3.31), (0.73, -3.3), (0.22, -3.37), (0.24, -3.35),
    (0.71, -3.43), (0.87, -3.41), (0.89, -3.4), (0.93, -3.37), (0.93, -3.42), (0.83, -3.48), (0.85, -3.52),
    (0.82, -3.53), (0.87, -3.45), (0.15, -3.41), (0.16, -3.41), (0.06, -3.44), (-0.19, -3.43), (-0.17, -3.4),
    (-0.12, -3.39), (-0.04, -3.59), (-0.1, -3.7), (0.34, -3.62), (0.41, -3.6), (0.43, -3.61), (0.52, -3.55),
    (0.57, -3.67), (0.62, -3.63), (0.64, -3.65), (0.69, -3.57), (0.69, -3.58), (0.73, -3.55), (0.75, -3.55),
    (0.77, -3.51), (0.74, -3.52), (0.7, -3.66), (0.7, -3.7), (0.75, -3.61), (0.77, -3.62), (0.81, -3.52),
    (0.73, -3.52), (1.16, -3.56), (1.19, -3.55), (1.19, -3.57), (0.93, -3.83), (0.77, -3.85), (0.51, -3.75),
    (0.52, -3.78), (0.53, -3.76), (0.51, -3.74), (0.57, -3.76), (0.62, -3.78), (0.64, -3.76), (0.61, -3.82),
    (0.6, -3.83), (0.63, -3.86), (0.63, -3.83), (0.53, -3.89), (0.55, -3.86), (0.56, -3.87), (0.56, -3.9),
    (0.43, -3.82), (0.41, -3.83), (0.38, -3.85), (0.37, -3.86), (0.42, -3.87), (0.46, -3.88), (0.4, -3.9),
    (0.42, -3.89), (0.32, -3.91), (0.33, -3.93), (0.35, -3.91), (0.31, -3.97), (0.33, -3.98), (0.28, -3.96),
    (0.29, -3.95), (0.46, -3.96), (0.36, -4.07), (0.41, -4.07), (0.39, -4.11), (0.46, -4.04), (0.45, -4.06),
    (0.43, -4.23), (0.28, -4.03), (0.26, -4.02), (0.29, -4.04), (0.19, -4.05), (0.17, -4.08), (0.14, -4.11),
    (0.12, -4.11), (0.16, -4.12), (0.2, -4.12), (0.22, -4.11), (0.24, -4.14), (0.24, -4.08), (0.25, -4.08),
    (0.18, -4.18), (0.21, -4.17), (0.17, -4.21), (0.22, -4.19), (0.19, -4.14), (0.28, -4.2), (0.26, -4.28),
    (0.31, -4.28), (0.32, -4.25), (0.32, -4.17), (0.18, -4.32), (0.19, -4.33), (0.14, -4.39), (0.15, -4.41),
    (0.05, -4.2), (0.07, -4.22), (0.02, -4.26), (0.0, -4.27), (0.05, -4.31), (0.07, -4.32), (-0.04, -4.21),
    (-0.05, -4.28), (-0.06, -4.3), (-0.07, -4.3), (-0.11, -4.38), (-0.08, -4.38), (-0.09, -4.41),
    (-0.13, -4.39), (-0.15, -4.4), (-0.14, -4.44), (-0.17, -4.46), (-0.15, -4.48), (-0.19, -4.52),
    (-0.12, -4.44), (-0.07, -4.45), (-0.04, -4.47), (-0.02, -4.41), (-0.05, -4.5), (-0.06, -4.52),
    (-0.08, -4.55), (-0.14, -4.54), (-0.15, -4.54), (-0.02, -4.6), (-0.01, -4.63), (-0.02, -4.62),
    (-0.13, -4.62), (-0.14, -4.65), (-0.11, -4.74), (-0.09, -4.77), (-0.14, -4.84), (-0.08, -4.88),
    (-0.07, -4.89), (-0.05, -4.88), (-0.09, -4.9), (-0.1, -4.98), (-0.12, -5.01), (-0.15, -5.07),
    (-0.21, -5.04), (-0.21, -5.09), (0.07, -4.6), (0.11, -4.58), (0.13, -4.63), (0.07, -4.66), (0.05, -4.71),
    (1.6, -3.25), (1.56, -3.29), (1.68, -3.33), (1.55, -3.49), (2.02, -3.38), (1.04, -3.28), (1.14, -3.32),
    (1.01, -3.35), (0.94, -3.43),
]

# Reference threshold and highlighted region
s2_threshold = -3.23
focus_center = (1.355, -3.055)
focus_radius = 0.415

# ---------------------------------------------------------------------------
meta_ok = (meta_ok_band_a + meta_ok_band_b + meta_ok_band_c + meta_ok_band_d
           + meta_ok_band_e + meta_ok_band_f + meta_ok_band_g + meta_ok_band_h
           + meta_ok_sweep_1 + meta_ok_sweep_2 + meta_ok_sweep_3 + meta_ok_sweep_4)
meta_failed = meta_failed_upper + meta_failed_middle + meta_failed_lower + meta_failed_left


def as_frame(points, kind):
    df = pd.DataFrame(points, columns=["S1", "S2"])
    df["kind"] = kind
    return df


metamodel = pd.concat([as_frame(meta_failed, "Metamodel (failed)"),
                       as_frame(meta_ok, "Metamodel (succeeded)")], ignore_index=True)
samples = pd.concat([as_frame(sample_failed, "Data sample (failed)"),
                     as_frame(sample_succeeded, "Data sample (succeeded)"),
                     as_frame(sample_incompatible, "Data sample (incompatible)")], ignore_index=True)

colors = {
    "Metamodel (failed)": "firebrick",
    "Metamodel (succeeded)": "limegreen",
    "Data sample (failed)": "red",
    "Data sample (succeeded)": "green",
    "Data sample (incompatible)": "purple",
}

fig = plt.figure(figsize=(10.81, 11.42), dpi=100)
W, H = 1081, 1142
ax = fig.add_axes([88 / W, (H - 1006) / H, (1084 - 88) / W, (1006 - 42) / H])

ax.grid(True, color="#b8b8b8", linewidth=1.1, zorder=0)
ax.set_axisbelow(True)

sns.scatterplot(data=metamodel, x="S1", y="S2", hue="kind", palette=colors,
                s=11, linewidth=0, alpha=0.6, legend=False, ax=ax, zorder=2)
sns.scatterplot(data=samples, x="S1", y="S2", hue="kind", palette=colors,
                marker="o", s=20, linewidth=0, legend=False, ax=ax, zorder=3)

ax.axhline(0, color="black", linewidth=2.2, zorder=1)
ax.axvline(0, color="black", linewidth=2.2, zorder=1)
ax.axhline(s2_threshold, color="purple", linewidth=1.6, alpha=0.7, zorder=4)
ax.add_patch(Circle(focus_center, focus_radius, fill=False, edgecolor="#ef8a3a",
                    linewidth=1.6, zorder=5))

ax.set_xlim(-0.219, 5.222)
ax.set_ylim(-5.131, 0.137)
ax.set_xticks(range(0, 6))
ax.set_yticks(range(-5, 1))
ax.tick_params(labelsize=13, length=4.5, width=1.0)
for sp in ax.spines.values():
    sp.set_linewidth(1.0)
ax.set_xlabel("S1", fontsize=13, labelpad=6)
ax.set_ylabel("S2", fontsize=13, labelpad=6)
ax.set_title("Metamodel and datapoints of GRAPA v3n with 2 variables, zoomed", fontsize=16, pad=9)

handles = [
    Line2D([], [], ls="", marker="o", markersize=10, color=colors["Metamodel (failed)"]),
    Line2D([], [], ls="", marker="o", markersize=10, color=colors["Metamodel (succeeded)"]),
    Line2D([], [], ls="", marker="D", markersize=10, color=colors["Data sample (failed)"]),
    Line2D([], [], ls="", marker="D", markersize=10, color=colors["Data sample (succeeded)"]),
    Line2D([], [], ls="", marker="D", markersize=10, color=colors["Data sample (incompatible)"]),
]
labels = ["Metamodel (failed)", "Metamodel (succeeded)", "Data sample (failed)",
          "Data sample (succeeded)", "Data sample (incompatible)"]
fig.legend(handles, labels, loc="upper center", bbox_to_anchor=(585 / W, 1 - 1081 / H),
           ncol=3, fontsize=13.5, columnspacing=2.2, labelspacing=0.35, borderpad=0.35,
           borderaxespad=0, frameon=True)

fig.savefig("out.png", dpi=100)
